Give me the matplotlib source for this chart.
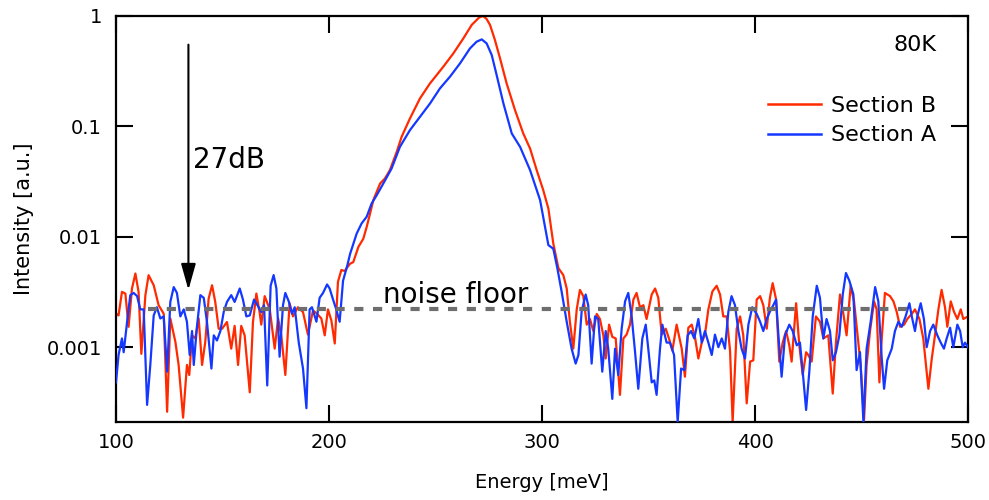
import matplotlib
matplotlib.use("Agg")
import matplotlib.pyplot as plt
from matplotlib.lines import Line2D

plt.rcParams['font.family'] = ['DejaVu Sans']

# ---- Section B (red) ----
energy_b = [100.0, 101.2, 102.8, 104.4, 105.9, 107.5, 109.1, 110.6, 111.9, 113.8, 115.3, 117.7, 120.0, 122.4,
            124.0, 125.5, 127.9, 129.4, 131.5, 133.3, 134.4, 135.7, 137.2, 138.8, 140.4, 141.9, 143.5, 145.1,
            146.6, 148.2, 149.8, 152.1,
            154.1, 155.7, 157.3, 158.8, 160.4, 162.8, 164.3, 165.9, 167.4, 168.2, 169.8, 172.2, 174.5, 176.1,
            177.6, 179.5, 181.5, 183.1, 185.4, 187.8, 190.1, 192.5, 194.5, 196.4, 198.0, 199.5, 201.1, 202.7,
            204.2, 205.8, 207.4, 208.6,
            209.9, 211.4, 213.8, 216.1, 217.7, 219.3, 220.8, 224.0, 226.3, 228.6, 231.8, 234.1, 238.0, 242.7,
            247.4, 253.7, 258.4, 263.1, 267.0, 270.5, 272.3, 274.0, 275.6, 277.9, 280.3, 283.4, 287.3, 291.2,
            294.4, 297.5, 300.6, 303.0, 305.3,
            307.7, 310.0, 311.6, 313.1, 314.7, 316.3, 317.8, 319.4, 321.0, 322.5, 324.1, 325.7, 327.2, 328.8,
            329.9, 331.5, 333.0, 334.6, 336.6, 338.2, 339.7, 341.3, 342.9, 344.4, 346.0, 347.6, 349.1, 351.5,
            353.1, 354.6, 356.2, 358.1, 359.6, 361.2, 363.2, 365.6, 367.1, 368.7, 370.3, 371.8, 373.4, 375.0,
            376.5, 378.1, 380.0, 382.0, 383.6, 385.1, 386.7, 388.3, 389.5, 391.4, 393.0, 394.5, 396.1, 397.7,
            399.2, 400.8,
            402.4, 403.9, 405.5, 407.0, 408.3, 409.9, 411.4, 413.0, 414.6, 416.1, 417.2, 419.3, 420.8, 422.4,
            424.0, 425.0, 426.6, 428.6, 430.5, 432.1, 434.4, 436.5, 438.0, 439.9, 441.5, 443.0, 444.9, 446.5,
            448.1, 449.6, 451.2, 452.4, 454.0, 455.9, 457.1, 458.4, 459.5, 461.0, 463.4, 465.0, 466.5, 468.1,
            470.0, 471.5, 473.6, 475.1, 477.2, 479.0, 481.4, 483.0, 484.5, 486.1, 487.6, 489.2, 490.3, 491.9,
            493.4, 495.0, 496.6, 497.8, 500.0]
intensity_b = [0.00201, 0.00194, 0.00317, 0.00306, 0.00153, 0.00340, 0.00465, 0.00317, 0.00087, 0.00296, 0.00449,
               0.00364, 0.00240, 0.00201, 0.00026, 0.00182, 0.00111, 0.00069, 0.00023, 0.00069, 0.00056, 0.00128,
               0.00120, 0.00182, 0.00069, 0.00111, 0.00276, 0.00364, 0.00257, 0.00147, 0.00147, 0.00169,
               0.00097, 0.00156, 0.00069, 0.00156, 0.00128, 0.00039, 0.00169, 0.00306, 0.00208, 0.00160, 0.00290,
               0.00220, 0.00097, 0.00182, 0.00128, 0.00056, 0.00250, 0.00190, 0.00230, 0.00208, 0.00130, 0.00215,
               0.00200, 0.00182, 0.00128, 0.00220, 0.00175, 0.00108, 0.00390, 0.00500, 0.00490, 0.00530,
               0.0057, 0.0059, 0.0081, 0.0096, 0.0123, 0.0163, 0.0215, 0.0304, 0.0338, 0.0402, 0.0589, 0.0805,
               0.118, 0.179, 0.245, 0.348, 0.459, 0.628, 0.83, 0.97, 1.0, 0.94, 0.83, 0.606, 0.413, 0.245, 0.141,
               0.0863, 0.063, 0.0402, 0.0264, 0.018, 0.0087,
               0.0052, 0.0045, 0.0034, 0.00169, 0.00097, 0.0022, 0.0033, 0.0029, 0.0016, 0.0018, 0.0014, 0.0020,
               0.0018, 0.00128, 0.00079, 0.0016, 0.00124, 0.0012, 0.00037, 0.0012, 0.0013, 0.0016, 0.0027, 0.0031,
               0.0023, 0.0024, 0.0018, 0.0030, 0.0034, 0.0028, 0.0013, 0.00147, 0.0012, 0.00093, 0.0016, 0.00097,
               0.00054, 0.0015, 0.0016, 0.00124, 0.00079, 0.0011, 0.0013, 0.0022, 0.0032, 0.0036, 0.0030, 0.0019,
               0.0019, 0.00092, 0.00021, 0.00147, 0.0019, 0.00128, 0.00031, 0.00074, 0.00076, 0.0027,
               0.0029, 0.0024, 0.00147, 0.0028, 0.0038, 0.0027, 0.00074, 0.0011, 0.0014, 0.00104, 0.00074, 0.0025,
               0.00104, 0.00056, 0.0009, 0.00085, 0.00074, 0.0019, 0.0017, 0.0012, 0.00128, 0.00038, 0.0011, 0.0030,
               0.0020, 0.00128, 0.0036, 0.0026, 0.0013, 0.00069, 0.00022, 0.00069, 0.0014, 0.0026, 0.0022, 0.00048,
               0.0012, 0.0031, 0.0029, 0.0026, 0.0021, 0.00153, 0.0016, 0.0018, 0.0020, 0.0022, 0.0018, 0.0012,
               0.00042, 0.00079, 0.00128, 0.0022, 0.0033, 0.0023, 0.00153, 0.0026, 0.0021, 0.0018, 0.0022, 0.0018,
               0.0019]

# ---- Section A (blue) ----
energy_a = [100.0, 101.2, 102.8, 103.6, 105.2, 106.7, 108.3, 109.9, 111.4, 113.0, 114.6, 116.1, 117.7, 119.2,
            120.8, 122.4, 124.0, 125.5, 127.1, 128.6, 130.2, 131.8, 133.3, 134.6, 135.7, 136.5, 138.0, 139.6,
            141.2, 142.7, 144.8, 145.9, 147.4, 149.0, 150.6, 152.1,
            154.1, 155.7, 158.1, 159.6, 161.2, 162.8, 164.8, 166.4, 168.2, 169.5, 171.0, 172.6, 174.0, 175.3,
            176.8, 178.4, 179.5, 181.1, 182.6, 183.9, 185.8, 187.8, 189.4, 190.9, 192.0, 194.1, 195.6, 197.2,
            199.1, 200.3, 201.9, 203.4, 205.0, 206.6, 208.6,
            209.9, 213.0, 215.3, 217.7, 220.0, 222.4, 225.5, 229.4, 233.3, 238.0, 242.7, 247.4, 252.1, 256.8,
            261.5, 266.2, 269.3, 271.7, 274.0, 276.4, 278.7, 281.9, 285.8, 289.7, 294.4, 299.1, 303.0, 305.3,
            307.2,
            309.2, 311.6, 313.9, 315.8, 317.1, 318.6, 320.5, 321.7, 323.3, 324.9, 326.4, 328.3, 329.9, 331.1,
            333.0, 334.3, 335.8, 337.4, 339.0, 340.5, 342.1, 343.7, 345.2, 347.1, 348.7, 350.2, 351.5, 352.7,
            353.8, 355.4, 356.5, 358.5, 360.1, 362.0, 363.7, 365.3, 366.8, 368.4, 370.0, 371.5, 373.4, 375.0,
            376.5, 378.1, 379.7, 381.2, 382.8, 384.4, 385.9, 387.5, 389.0, 390.6, 392.2, 393.7, 395.3, 396.9,
            398.7, 400.8,
            402.4, 403.9, 405.5, 407.0, 408.6, 409.9, 411.1, 412.5, 414.1, 416.1, 417.7, 419.6, 421.1, 422.4,
            424.0, 425.5, 427.1, 429.0, 430.5, 432.1, 433.6, 435.2, 436.5, 438.0, 439.6, 441.2, 442.7, 444.3,
            446.2, 447.7, 449.3, 450.9, 452.4, 454.3, 456.4, 457.9, 459.5, 460.6, 462.1, 464.2, 465.7, 467.3,
            468.9, 470.7, 472.5, 473.6, 475.1, 476.2, 477.8, 479.3, 480.6, 482.2, 483.7, 485.6, 487.2, 488.7,
            490.0, 491.6, 493.1, 495.0, 496.3, 497.5, 498.6, 500.0]
intensity_a = [0.00048, 0.00085, 0.0012, 0.00090, 0.00169, 0.00296, 0.0031, 0.0029, 0.0022, 0.0022, 0.00030,
               0.00069, 0.00194, 0.0023, 0.00182, 0.0019, 0.0006, 0.00257, 0.0035, 0.0031, 0.0019, 0.0022, 0.0017,
               0.00085, 0.0014, 0.00069, 0.00153, 0.00296, 0.0028, 0.0017, 0.00064, 0.00128, 0.00115, 0.0014,
               0.0021, 0.00257,
               0.00296, 0.00257, 0.0034, 0.0027, 0.0019, 0.00194, 0.0027, 0.0024, 0.00208, 0.0024, 0.00045, 0.0036,
               0.0045, 0.0034, 0.00082, 0.0024, 0.0031, 0.0026, 0.00201, 0.0023, 0.0011, 0.00064, 0.00028, 0.0022,
               0.0023, 0.0017, 0.0028, 0.0031, 0.0037, 0.0034, 0.0027, 0.0022, 0.0017, 0.0040, 0.0055,
               0.0070, 0.0107, 0.0132, 0.0152, 0.020, 0.0238, 0.0304, 0.0416, 0.0653, 0.0925, 0.122, 0.161, 0.221,
               0.282, 0.372, 0.509, 0.585, 0.614, 0.565, 0.443, 0.292, 0.161, 0.0863, 0.0653, 0.0402, 0.0215,
               0.0084, 0.0078, 0.0052,
               0.0032, 0.0017, 0.00097, 0.00071, 0.00085, 0.0021, 0.0030, 0.0024, 0.00071, 0.0019, 0.0018, 0.0006,
               0.0014, 0.00097, 0.00034, 0.00097, 0.00056, 0.00147, 0.0026, 0.0031, 0.0019, 0.0009, 0.00042,
               0.0012, 0.0016, 0.00085, 0.00048, 0.0005, 0.00037, 0.00097, 0.0016, 0.0011, 0.0011, 0.00085,
               0.00021, 0.00064, 0.00062, 0.00128, 0.0014, 0.0012, 0.0018, 0.0011, 0.0014, 0.0011, 0.00085, 0.0013,
               0.0010, 0.0012, 0.00097, 0.0021, 0.0029, 0.0024, 0.0014, 0.00097, 0.00079, 0.0016, 0.0023, 0.0020,
               0.0017, 0.0014, 0.0018, 0.0021, 0.0024, 0.0027, 0.0012, 0.00054, 0.00128, 0.0016, 0.0014, 0.00104,
               0.0011, 0.0006, 0.00027, 0.0006, 0.0019, 0.0036, 0.0028, 0.0012, 0.0018, 0.0014, 0.00076, 0.0009,
               0.00128, 0.0030, 0.0047, 0.0040, 0.0030, 0.00062, 0.0009, 0.00021, 0.00097, 0.0017, 0.0035, 0.0026,
               0.00079, 0.00042, 0.00076, 0.00097, 0.0014, 0.0017, 0.00153, 0.0019, 0.0025, 0.0019, 0.0014, 0.0019,
               0.0025, 0.0018, 0.0010, 0.0014, 0.0016, 0.00128, 0.0011, 0.00097, 0.0012, 0.0015, 0.0010, 0.0016,
               0.0014, 0.0010, 0.0011, 0.0010]

# ---- annotations ----
noise_floor_level = 0.0022
noise_floor_range = [115.0, 472.0]
arrow_energy = 134.0
arrow_top = 0.55
arrow_bottom = 0.0033

RED = '#ff2a00'
BLUE = '#1438ff'

fig = plt.figure(figsize=(9.89, 5.0), dpi=100)
ax = fig.add_axes([116 / 989, 78 / 500, 852 / 989, 406 / 500])

ax.plot(energy_b, intensity_b, color=RED, lw=1.6, label='Section B', zorder=2)
ax.plot(energy_a, intensity_a, color=BLUE, lw=1.6, label='Section A', zorder=3)

ax.plot(noise_floor_range, [noise_floor_level, noise_floor_level], color='#6e6e6e', lw=3,
        linestyle=(0, (2.2, 2.3)), zorder=4)

ax.annotate('', xy=(arrow_energy, arrow_bottom), xytext=(arrow_energy, arrow_top),
            arrowprops=dict(arrowstyle='-|>,head_length=1.6,head_width=0.45', lw=1.5, color='black',
                            shrinkA=0, shrinkB=0), zorder=5)

ax.set_yscale('log')
ax.set_xlim(100, 500)
ax.set_ylim(0.00021, 1.0)
ax.minorticks_off()
ax.set_xticks([100, 200, 300, 400, 500])
ax.set_yticks([0.001, 0.01, 0.1, 1.0], labels=['0.001', '0.01', '0.1', '1'])

ax.tick_params(direction='in', length=12, width=1.5, top=True, right=True, labelsize=14)
ax.tick_params(axis='x', pad=8)
ax.tick_params(axis='y', pad=10)
for s in ax.spines.values():
    s.set_linewidth(1.6)

ax.set_xlabel('Energy [meV]', fontsize=14, labelpad=15)
ax.set_ylabel('Intensity [a.u.]', fontsize=15, labelpad=9)

ax.text(0.9636, 0.9286, '80K', transform=ax.transAxes, ha='right', va='center', fontsize=16)
ax.text(0.0904, 0.645, '27dB', transform=ax.transAxes, ha='left', va='center', fontsize=20)
ax.text(0.3134, 0.293, 'noise floor', transform=ax.transAxes, ha='left', va='baseline', fontsize=20)

handles = [Line2D([], [], color=RED, lw=1.8), Line2D([], [], color=BLUE, lw=1.8)]
ax.legend(handles, ['Section B', 'Section A'], loc='upper right', bbox_to_anchor=(0.963, 0.803),
          frameon=False, fontsize=16, handlelength=2.4, handletextpad=0.45, labelspacing=0.42,
          borderaxespad=0, borderpad=0)

fig.savefig('out.png', dpi=100)
